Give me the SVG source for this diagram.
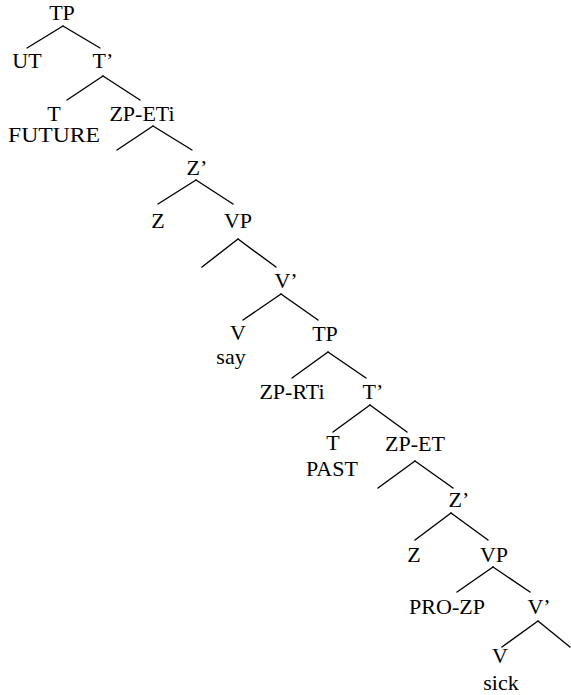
<svg xmlns="http://www.w3.org/2000/svg" width="571" height="695" viewBox="0 0 571 695">
<style>
.e line{stroke:#000;stroke-width:1.4;stroke-linecap:round}
.n text{font-family:"Liberation Serif",serif;font-size:22px;fill:#000;text-anchor:middle}
</style>
<rect width="571" height="695" fill="#fff"/>
<g id="connectors" class="e">
<line x1="63" y1="26" x2="27" y2="48"/><line x1="63" y1="26" x2="100" y2="48"/>
<line x1="103" y1="76" x2="67" y2="100"/><line x1="103" y1="76" x2="140" y2="100"/>
<line x1="153" y1="126" x2="117" y2="150"/><line x1="153" y1="126" x2="192" y2="150"/>
<line x1="196" y1="180" x2="158" y2="204"/><line x1="196" y1="180" x2="233" y2="204"/>
<line x1="238" y1="239" x2="202" y2="267"/><line x1="238" y1="239" x2="276" y2="267"/>
<line x1="281" y1="294" x2="243" y2="320"/><line x1="281" y1="294" x2="318" y2="320"/>
<line x1="328" y1="352" x2="292" y2="378"/><line x1="328" y1="352" x2="366" y2="378"/>
<line x1="370" y1="405" x2="333" y2="432"/><line x1="370" y1="405" x2="407" y2="432"/>
<line x1="415" y1="461" x2="378" y2="488"/><line x1="415" y1="461" x2="453" y2="488"/>
<line x1="451" y1="513" x2="415" y2="540"/><line x1="451" y1="513" x2="488" y2="540"/>
<line x1="493" y1="567" x2="457" y2="592"/><line x1="493" y1="567" x2="530" y2="592"/>
<line x1="538" y1="621" x2="502" y2="647"/><line x1="538" y1="621" x2="570" y2="647"/>
</g>
<g class="n">
<g id="tp1"><text x="62" y="20">TP</text></g>
<g id="ut"><text x="27" y="68">UT</text></g>
<g id="tbar1"><text x="103" y="68">T’</text></g>
<g id="t1"><text x="54" y="121">T</text><text x="54" y="142" textLength="92" lengthAdjust="spacingAndGlyphs">FUTURE</text></g>
<g id="zpeti"><text x="142" y="121">ZP-ETi</text></g>
<g id="zbar1"><text x="197" y="175">Z’</text></g>
<g id="z1"><text x="158" y="228">Z</text></g>
<g id="vp1"><text x="238" y="228">VP</text></g>
<g id="vbar1"><text x="286" y="288">V’</text></g>
<g id="v1"><text x="238" y="340">V</text><text x="231" y="364">say</text></g>
<g id="tp2"><text x="325" y="341">TP</text></g>
<g id="zprti"><text x="292" y="399">ZP-RTi</text></g>
<g id="tbar2"><text x="373" y="399">T’</text></g>
<g id="t2"><text x="333" y="450">T</text><text x="332" y="476">PAST</text></g>
<g id="zpet"><text x="415" y="451">ZP-ET</text></g>
<g id="zbar2"><text x="459" y="507">Z’</text></g>
<g id="z2"><text x="414" y="562">Z</text></g>
<g id="vp2"><text x="494" y="562">VP</text></g>
<g id="prozp"><text x="447" y="614">PRO-ZP</text></g>
<g id="vbar2"><text x="539" y="614">V’</text></g>
<g id="v2"><text x="500" y="663">V</text><text x="501" y="690">sick</text></g>
</g>
</svg>
